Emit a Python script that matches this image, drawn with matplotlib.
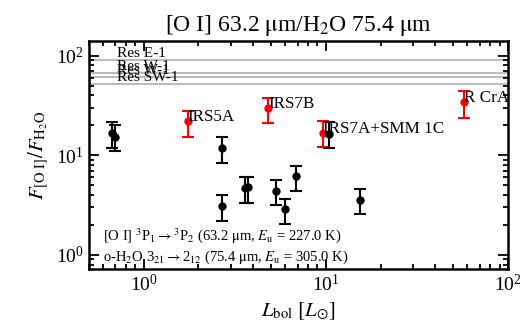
import numpy as np
import matplotlib
matplotlib.use("Agg")
import matplotlib.pyplot as plt

plt.rcParams['font.family'] = ['Liberation Serif', 'DejaVu Serif']
plt.rcParams['mathtext.fontset'] = 'stix'

# reference lines (residual / outflow positions)
res_names = ["Res E-1", "Res W-1", "Res W-1", "Res SW-1"]
res_vals = [90.6, 67.0, 60.3, 51.9]

# named sources (red)
src_names = ["IRS5A", "IRS7B", "IRS7A+SMM 1C", "R CrA"]
src_lbol = [1.75, 4.84, 9.65, 57.4]
src_ratio = [22.0, 29.5, 16.9, 34.4]
src_hi = [27.9, 37.7, 22.0, 44.4]
src_lo = [15.3, 21.1, 12.2, 23.8]

# other positions (black)
oth_lbol = [0.672, 0.695, 2.70, 2.70, 3.60, 3.75, 5.34, 6.00, 6.85, 10.4, 15.5]
oth_ratio = [16.8, 15.3, 11.8, 3.06, 4.70, 4.80, 4.37, 2.86, 6.15, 16.5, 3.58]
oth_hi = [21.6, 20.0, 15.3, 3.96, 6.04, 6.04, 5.69, 3.66, 7.80, 21.6, 4.55]
oth_lo = [11.7, 11.0, 8.36, 2.18, 3.31, 3.31, 3.14, 2.05, 4.37, 11.7, 2.59]

fig = plt.figure(figsize=(5.29, 3.31), dpi=100)
ax = fig.add_axes([0.168, 0.187, 0.792, 0.689])

for name, v in zip(res_names, res_vals):
    ax.axhline(v, color='#bbbbbb', lw=1.5, zorder=1)
    ax.text(0.71, v, name, fontsize=11, va='bottom', ha='left', zorder=2)

r = np.array(src_ratio)
ax.errorbar(src_lbol, r, yerr=[r - np.array(src_lo), np.array(src_hi) - r],
            fmt='o', color='red', ms=5, elinewidth=1.5, capsize=4.5, capthick=1.5, zorder=3)
for name, x, y in zip(src_names, src_lbol, src_ratio):
    ax.text(x, y, name, fontsize=12.3, zorder=5)

o = np.array(oth_ratio)
ax.errorbar(oth_lbol, o, yerr=[o - np.array(oth_lo), np.array(oth_hi) - o],
            fmt='o', color='black', ms=5, elinewidth=1.5, capsize=4.5, capthick=1.5, zorder=4)

ax.text(0.033, 0.149, r"[O I] $^3$P$_1$$\rightarrow$$^3$P$_2$ (63.2 $\mathrm{\mu}$m, $E_{\rm u}$ = 227.0 K)",
        transform=ax.transAxes, fontsize=10.5, va='center')
ax.text(0.033, 0.053, r"o-H$_2$O 3$_{21}$$\rightarrow$2$_{12}$ (75.4 $\mathrm{\mu}$m, $E_{\rm u}$ = 305.0 K)",
        transform=ax.transAxes, fontsize=10.5, va='center')

ax.set_xscale('log')
ax.set_yscale('log')
ax.set_xlim(0.5, 100)
ax.set_ylim(0.72, 140)
ax.set_xlabel(r"$L_{\rm bol}$ $[L_{\odot}]$", fontsize=15)
ax.set_ylabel(r"$F_{\rm [O\ I]}/F_{\rm H_2O}$", fontsize=15)
ax.set_title(r"[O I] 63.2 $\mathrm{\mu}$m/H$_2$O 75.4 $\mathrm{\mu}$m", fontsize=17, pad=7)

ax.tick_params(which='both', direction='in', top=True, right=True, labelsize=14, width=1.3)
ax.tick_params(which='major', length=7)
ax.tick_params(which='minor', length=3.5)
for s in ax.spines.values():
    s.set_linewidth(1.8)

fig.savefig("out.png", dpi=100)
